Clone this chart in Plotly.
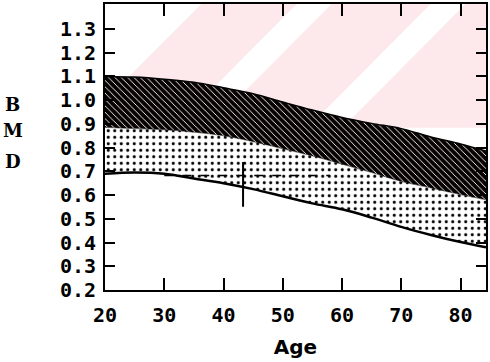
import plotly.graph_objects as go

# ---- data ----
AGES = [20, 25, 30, 35, 40, 45, 50, 55, 60, 65, 70, 75, 80, 84.3]
UPPER = [1.100, 1.097, 1.088, 1.075, 1.052, 1.027, 0.992, 0.958, 0.927, 0.902, 0.880, 0.845, 0.815, 0.785]
MIDDLE = [0.885, 0.880, 0.875, 0.865, 0.850, 0.825, 0.795, 0.765, 0.730, 0.695, 0.657, 0.630, 0.602, 0.580]
LOWER = [0.690, 0.695, 0.690, 0.670, 0.650, 0.625, 0.595, 0.565, 0.540, 0.505, 0.466, 0.432, 0.402, 0.380]

# pink background region (age, BMD corners) and the white gaps in it
PINK_X = [20, 84.3, 84.3, 36.3, 20, 20]
PINK_Y = [0.884, 0.884, 1.405, 1.405, 0.997, 0.884]
GAP_TOP_AGES = [55.3, 77.9]   # centre of each white gap along the top edge
GAP_WIDTH_YEARS = 5.9

# dashed reference segment and patient marker
DASH_AGES = [30, 58]
DASH_BMD = [0.682, 0.682]
PATIENT_AGE = [43.3]
PATIENT_BMD = [0.645]

X_TICKS = [20, 30, 40, 50, 60, 70, 80]
Y_TICKS = [0.2, 0.3, 0.4, 0.5, 0.6, 0.7, 0.8, 0.9, 1.0, 1.1, 1.2, 1.3]
X_RANGE = [20, 84.3]
Y_RANGE = [0.2, 1.405]

W, H = 490, 362
M_L, M_R, M_T, M_B = 105, 2, 4, 72
PLOT_W = W - M_L - M_R
PLOT_H = H - M_T - M_B
X_PER_PX = (X_RANGE[1] - X_RANGE[0]) / PLOT_W
Y_PER_PX = (Y_RANGE[1] - Y_RANGE[0]) / PLOT_H

fig = go.Figure()

# solid pink background
fig.add_trace(go.Scatter(
    x=PINK_X, y=PINK_Y, mode="lines", fill="toself",
    line=dict(width=0), fillcolor="#fde8ec",
    hoverinfo="skip", showlegend=False))

# white 45-degree gaps in the pink
gx, gy = [], []
y_top, y_bot = Y_RANGE[1], PINK_Y[0]
shift = (y_top - y_bot) / Y_PER_PX * X_PER_PX
for a in GAP_TOP_AGES:
    hw = GAP_WIDTH_YEARS / 2
    gx += [a - hw, a + hw, a + hw - shift, a - hw - shift, a - hw, None]
    gy += [y_top, y_top, y_bot, y_bot, y_top, None]
fig.add_trace(go.Scatter(
    x=gx, y=gy, mode="lines", fill="toself", line=dict(width=0),
    fillcolor="white", hoverinfo="skip", showlegend=False))

# upper boundary
fig.add_trace(go.Scatter(
    x=AGES, y=UPPER, mode="lines", line=dict(color="black", width=1.5, shape="spline"),
    showlegend=False))

# dark zig-zag band
fig.add_trace(go.Scatter(
    x=AGES, y=MIDDLE, mode="lines", fill="tonexty",
    line=dict(color="black", width=0.5, shape="spline"),
    fillcolor="black",
    fillpattern=dict(shape="\\", size=4.5, solidity=0.2,
                     fgcolor="white", bgcolor="#080102", fillmode="replace"),
    showlegend=False))

# dotted band
fig.add_trace(go.Scatter(
    x=AGES, y=LOWER, mode="lines", fill="tonexty",
    line=dict(color="black", width=2.5, shape="spline"),
    fillcolor="white",
    fillpattern=dict(shape=".", size=6.5, solidity=0.17,
                     fgcolor="black", bgcolor="white", fillmode="replace"),
    showlegend=False))

# dashed reference
fig.add_trace(go.Scatter(
    x=DASH_AGES, y=DASH_BMD, mode="lines",
    line=dict(color="black", width=1.5, dash="dash"), showlegend=False))

# patient marker
fig.add_trace(go.Scatter(
    x=PATIENT_AGE, y=PATIENT_BMD, mode="markers",
    marker=dict(symbol="line-ns-open", size=32, color="black",
                line=dict(color="black", width=2)),
    showlegend=False))

tickfont = dict(family="DejaVu Sans Mono", size=20, color="black", weight="bold")

fig.update_xaxes(
    range=X_RANGE, tickvals=X_TICKS, ticktext=[str(v) for v in X_TICKS],
    ticks="inside", ticklen=12, tickwidth=2, tickcolor="black",
    showline=True, linewidth=2, linecolor="black", mirror="ticks",
    showgrid=False, zeroline=False, tickfont=tickfont, ticklabelstandoff=6,
    title=dict(text="Age", font=dict(family="DejaVu Sans", size=20, color="black", weight="bold"),
               standoff=14))

fig.update_yaxes(
    range=Y_RANGE, tickvals=Y_TICKS, ticktext=[f"{v:.1f}" for v in Y_TICKS],
    ticks="inside", ticklen=10, tickwidth=2, tickcolor="black",
    showline=True, linewidth=2, linecolor="black", mirror="ticks",
    showgrid=False, zeroline=False, tickfont=tickfont, ticklabelstandoff=3)

for letter, yp in zip(["B", "M", "D"], [0.650, 0.556, 0.448]):
    fig.add_annotation(text=letter, xref="paper", yref="paper", x=-0.2415, y=yp,
                       showarrow=False, xanchor="center", yanchor="middle",
                       font=dict(family="DejaVu Serif", size=18, color="black", weight="bold"))

fig.update_layout(
    width=W, height=H,
    margin=dict(l=M_L, r=M_R, t=M_T, b=M_B),
    paper_bgcolor="white", plot_bgcolor="white",
    showlegend=False)

fig.write_html("out.html")
